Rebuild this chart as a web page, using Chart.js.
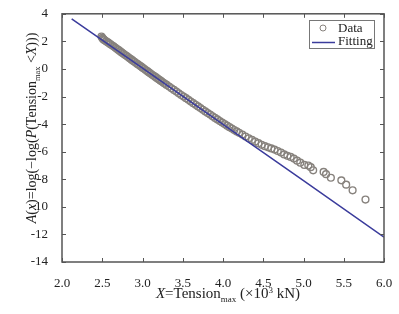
<!DOCTYPE html>
<html>
<head>
<meta charset="utf-8">
<script src="https://cdn.jsdelivr.net/npm/chart.js@4.4.0/dist/chart.umd.min.js"></script>
<style>
  html, body { margin: 0; padding: 0; background: #fff; }
</style>
</head>
<body>
<canvas id="miGrafico" width="399" height="314"></canvas>
<script>
// ------------------------------------------------------------------------------
// Gumbel plot: Tension_max data vs fitting line
// ------------------------------------------------------------------------------
const dataX = [
    2.49, 2.50, 2.51, 2.52, 2.53, 2.55, 2.57, 2.58, 2.60, 2.62, 2.64, 2.66, 2.68, 2.70,
    2.72, 2.74, 2.76, 2.78, 2.80, 2.82, 2.84, 2.86, 2.88, 2.90, 2.92, 2.94, 2.96, 2.98,
    3.00, 3.02, 3.04, 3.06, 3.08, 3.10, 3.12, 3.14, 3.16, 3.18, 3.20, 3.22, 3.24, 3.26,
    3.28, 3.30, 3.33, 3.36, 3.39, 3.42, 3.45, 3.48, 3.51, 3.54, 3.57, 3.60, 3.63, 3.66,
    3.69, 3.72, 3.75, 3.78, 3.81, 3.84, 3.87, 3.90, 3.93, 3.96, 3.99, 4.02, 4.05, 4.08,
    4.11, 4.14, 4.17, 4.20, 4.24, 4.28, 4.32, 4.36, 4.40, 4.44, 4.48, 4.52, 4.56, 4.60,
    4.64, 4.68, 4.72, 4.76, 4.80, 4.84, 4.88, 4.92, 4.96, 5.01, 5.06, 5.09, 5.12, 5.25,
    5.28, 5.34, 5.47, 5.53, 5.61, 5.77
];
const dataY = [
    2.35, 2.25, 2.18, 2.12, 2.08, 2.00, 1.93, 1.88, 1.80, 1.72, 1.64, 1.55, 1.46, 1.38,
    1.29, 1.20, 1.12, 1.03, 0.95, 0.86, 0.77, 0.69, 0.60, 0.52, 0.43, 0.35, 0.26, 0.18,
    0.09, 0.01, -0.08, -0.16, -0.25, -0.33, -0.42, -0.50, -0.58, -0.67, -0.75, -0.83, -0.91, -1.00,
    -1.08, -1.16, -1.28, -1.40, -1.52, -1.64, -1.77, -1.89, -2.00, -2.12, -2.24, -2.36, -2.48, -2.60,
    -2.72, -2.84, -2.96, -3.08, -3.20, -3.31, -3.43, -3.55, -3.66, -3.78, -3.89, -4.00, -4.11, -4.22,
    -4.32, -4.43, -4.53, -4.63, -4.76, -4.90, -5.03, -5.15, -5.27, -5.38, -5.50, -5.60, -5.68, -5.76,
    -5.85, -5.95, -6.06, -6.20, -6.30, -6.38, -6.50, -6.65, -6.80, -6.96, -7.00, -7.12, -7.35, -7.47,
    -7.63, -7.89, -8.08, -8.39, -8.80, -9.47
];
const fitX = [2.12, 3.00, 4.00, 5.00, 6.00];
const fitY = [3.64, 0.06, -4.02, -8.10, -12.19];

const xTicks = [2.0, 2.5, 3.0, 3.5, 4.0, 4.5, 5.0, 5.5, 6.0];
const yTicks = [4, 2, 0, -2, -4, -6, -8, -10, -12, -14];

const serif = "'Liberation Serif', 'Times New Roman', serif";
const axisColor = "#555";
const dataColor = "rgb(135,130,125)";
const fitColor = "#3b3c9c";

let puntos = dataX.map((x, i) => ({ x: x, y: dataY[i] }));
let linea = fitX.map((x, i) => ({ x: x, y: fitY[i] }));

// draws a text made of pieces (normal / italic / sub / sup), returns width
function piezas(ctx, parts, size, draw) {
    let w = 0;
    for (let p of parts) {
        let fs = (p[1] === "sub" || p[1] === "sup") ? size * 0.6 : size;
        ctx.font = (p[1] === "italic" ? "italic " : "") + fs + "px " + serif;
        let dy = p[1] === "sub" ? size * 0.25 : (p[1] === "sup" ? -size * 0.35 : 0);
        if (draw) ctx.fillText(p[0], w, dy);
        w += ctx.measureText(p[0]).width;
    }
    return w;
}

const marco = {
    id: "marco",
    afterDraw(chart) {
        const ctx = chart.ctx;
        const a = chart.chartArea;
        const sx = chart.scales.x, sy = chart.scales.y;
        ctx.save();
        // frame
        ctx.strokeStyle = axisColor;
        ctx.lineWidth = 1.5;
        ctx.strokeRect(a.left, a.top, a.right - a.left, a.bottom - a.top);
        // inward ticks
        ctx.lineWidth = 1;
        ctx.beginPath();
        for (let v of xTicks) {
            let px = Math.round(sx.getPixelForValue(v)) + 0.5;
            ctx.moveTo(px, a.bottom); ctx.lineTo(px, a.bottom - 4);
            ctx.moveTo(px, a.top); ctx.lineTo(px, a.top + 4);
        }
        for (let v of yTicks) {
            let py = Math.round(sy.getPixelForValue(v)) + 0.5;
            ctx.moveTo(a.left, py); ctx.lineTo(a.left + 4, py);
            ctx.moveTo(a.right, py); ctx.lineTo(a.right - 4, py);
        }
        ctx.stroke();

        // legend
        ctx.strokeStyle = "#777";
        ctx.lineWidth = 1;
        ctx.fillStyle = "#fff";
        ctx.fillRect(309.5, 20.5, 65, 28);
        ctx.strokeRect(309.5, 20.5, 65, 28);
        ctx.strokeStyle = dataColor;
        ctx.beginPath();
        ctx.arc(323, 28, 3, 0, Math.PI * 2);
        ctx.stroke();
        ctx.strokeStyle = fitColor;
        ctx.lineWidth = 1.5;
        ctx.beginPath();
        ctx.moveTo(312, 42.5); ctx.lineTo(335, 42.5);
        ctx.stroke();
        ctx.fillStyle = "#222";
        ctx.textBaseline = "alphabetic";
        ctx.font = "13px " + serif;
        ctx.fillText("Data", 338, 32);
        ctx.fillText("Fitting", 338, 45);

        // x title
        const tx = [["X", "italic"], ["=Tension", "n"], ["max", "sub"], [" (\u00d710", "n"], ["3", "sup"], [" kN)", "n"]];
        let wx = piezas(ctx, tx, 15, false);
        ctx.save();
        ctx.translate(228 - wx / 2, 298);
        piezas(ctx, tx, 15, true);
        ctx.restore();

        // y title
        const ty = [["A", "italic"], ["(", "n"], ["x", "italic"], [")=log(\u2212log(", "n"], ["P", "italic"],
                    ["(Tension", "n"], ["max", "sub"], [" <", "n"], ["X", "italic"], [")))", "n"]];
        let wy = piezas(ctx, ty, 14, false);
        ctx.save();
        ctx.translate(36, 128 + wy / 2);
        ctx.rotate(-Math.PI / 2);
        piezas(ctx, ty, 14, true);
        ctx.restore();
        ctx.restore();
    }
};

var mostrar = document.getElementById("miGrafico");
var grafico = new Chart(mostrar, {
    type: "scatter",
    data: {
        datasets: [{
                label: "Data",
                data: puntos,
                showLine: false,
                pointStyle: "circle",
                pointRadius: 3.4,
                pointBorderWidth: 1.4,
                pointBackgroundColor: "rgba(0,0,0,0)",
                pointBorderColor: dataColor,
                order: 2,
            },
            {
                label: "Fitting",
                data: linea,
                showLine: true,
                pointRadius: 0,
                borderColor: fitColor,
                borderWidth: 1.5,
                order: 1,
            }
        ],
    },
    options: {
        responsive: false,
        animation: false,
        layout: { padding: { top: 12, right: 15, left: 0, bottom: 0 } },
        plugins: { legend: { display: false }, tooltip: { enabled: false } },
        scales: {
            x: {
                type: "linear",
                min: 2, max: 6,
                afterBuildTicks: (s) => { s.ticks = xTicks.map(v => ({ value: v })); },
                afterFit: (s) => { s.height = 52; },
                grid: { display: false },
                border: { display: false },
                ticks: {
                    padding: 6,
                    color: "#222",
                    font: { family: serif, size: 13 },
                    callback: (v) => v.toFixed(1),
                },
            },
            y: {
                type: "linear",
                min: -14, max: 4,
                afterBuildTicks: (s) => { s.ticks = yTicks.map(v => ({ value: v })); },
                afterFit: (s) => { s.width = 62; },
                grid: { display: false },
                border: { display: false },
                ticks: {
                    padding: 6,
                    color: "#222",
                    font: { family: serif, size: 13 },
                },
            },
        },
    },
    plugins: [marco],
});
</script>
</body>
</html>
